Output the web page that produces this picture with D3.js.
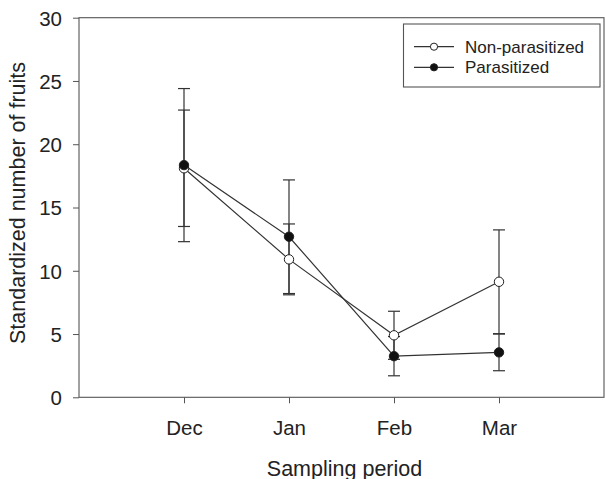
<!DOCTYPE html>
<html><head><meta charset="utf-8">
<script src="https://cdn.jsdelivr.net/npm/d3@7"></script>
<style>body{margin:0;background:#fff}svg{display:block}text{font-family:Arial,"Liberation Sans",sans-serif;fill:#222}</style>
</head><body>
<svg id="c" width="605" height="479"></svg>
<script>
const categories = ["Dec", "Jan", "Feb", "Mar"];
const nonParasitized = [18.1, 10.9, 4.9, 9.13];
const nonParasitizedErr = [4.6, 2.8, 1.9, 4.1];
const parasitized = [18.35, 12.69, 3.25, 3.55];
const parasitizedErr = [6.05, 4.49, 1.55, 1.45];
const yTicks = [0, 5, 10, 15, 20, 25, 30];
const seriesNames = ["Non-parasitized", "Parasitized"];

const svg = d3.select("#c");
const x = d3.scaleLinear().domain([0, 5]).range([79, 604]);
const y = d3.scaleLinear().domain([0, 30]).range([397.3, 17.7]);
const lineCol = "#333", axisCol = "#555";

// frame
svg.append("rect").attr("x", x(0)).attr("y", y(30)).attr("width", x(5) - x(0)).attr("height", y(0) - y(30))
  .attr("fill", "none").attr("stroke", axisCol).attr("stroke-width", 1.1);

// y axis
const yAxis = svg.append("g").attr("transform", `translate(${x(0)},0)`)
  .call(d3.axisLeft(y).tickValues(yTicks).tickSize(6).tickPadding(11));
yAxis.select(".domain").remove();
yAxis.selectAll("line").attr("stroke", axisCol);
yAxis.selectAll("text").style("font-size", "20.5px").style("fill", "#222").attr("dy", "0.36em");

// x axis
const xAxis = svg.append("g").attr("transform", `translate(0,${y(0)})`)
  .call(d3.axisBottom(x).tickValues([1, 2, 3, 4]).tickFormat(i => categories[i - 1]).tickSize(6).tickPadding(17));
xAxis.select(".domain").remove();
xAxis.selectAll("line").attr("stroke", axisCol);
xAxis.selectAll("text").style("font-size", "20.5px").style("fill", "#222");

// titles
svg.append("text").attr("x", (x(0) + x(5)) / 2 + 3).attr("y", 475.5).attr("text-anchor", "middle")
  .style("font-size", "21.5px").text("Sampling period");
svg.append("text").attr("transform", "translate(25,203) rotate(-90)").attr("text-anchor", "middle")
  .style("font-size", "21.5px").text("Standardized number of fruits");

const series = [
  { name: seriesNames[0], vals: nonParasitized, err: nonParasitizedErr, fill: "#fff" },
  { name: seriesNames[1], vals: parasitized, err: parasitizedErr, fill: "#111" }
];
const cap = 6;

// error bars
series.forEach(s => {
  const g = svg.append("g").attr("stroke", lineCol).attr("stroke-width", 1.2);
  s.vals.forEach((v, i) => {
    const cx = x(i + 1), hi = y(v + s.err[i]), lo = y(v - s.err[i]);
    g.append("line").attr("x1", cx).attr("x2", cx).attr("y1", hi).attr("y2", lo);
    g.append("line").attr("x1", cx - cap).attr("x2", cx + cap).attr("y1", hi).attr("y2", hi);
    g.append("line").attr("x1", cx - cap).attr("x2", cx + cap).attr("y1", lo).attr("y2", lo);
  });
});

// lines
const line = d3.line().x((d, i) => x(i + 1)).y(d => y(d));
series.forEach(s => {
  svg.append("path").attr("d", line(s.vals)).attr("fill", "none").attr("stroke", lineCol).attr("stroke-width", 1.2);
});

// points
series.forEach(s => {
  svg.append("g").selectAll("circle").data(s.vals).join("circle")
    .attr("cx", (d, i) => x(i + 1)).attr("cy", d => y(d)).attr("r", 4.7)
    .attr("fill", s.fill).attr("stroke", "#222").attr("stroke-width", 1);
});

// legend
svg.append("rect").attr("x", 403.5).attr("y", 24).attr("width", 196.5).attr("height", 63)
  .attr("fill", "#fff").attr("stroke", axisCol).attr("stroke-width", 1.1);
const ly = [46.7, 67.3];
series.forEach((s, k) => {
  svg.append("line").attr("x1", 414).attr("x2", 454).attr("y1", ly[k]).attr("y2", ly[k])
    .attr("stroke", lineCol).attr("stroke-width", 1.2);
  svg.append("circle").attr("cx", 434).attr("cy", ly[k]).attr("r", 3.6)
    .attr("fill", s.fill).attr("stroke", "#222").attr("stroke-width", 1);
  svg.append("text").attr("x", 465).attr("y", ly[k]).attr("dy", "0.36em")
    .style("font-size", "17px").text(s.name);
});
</script>
</body></html>
